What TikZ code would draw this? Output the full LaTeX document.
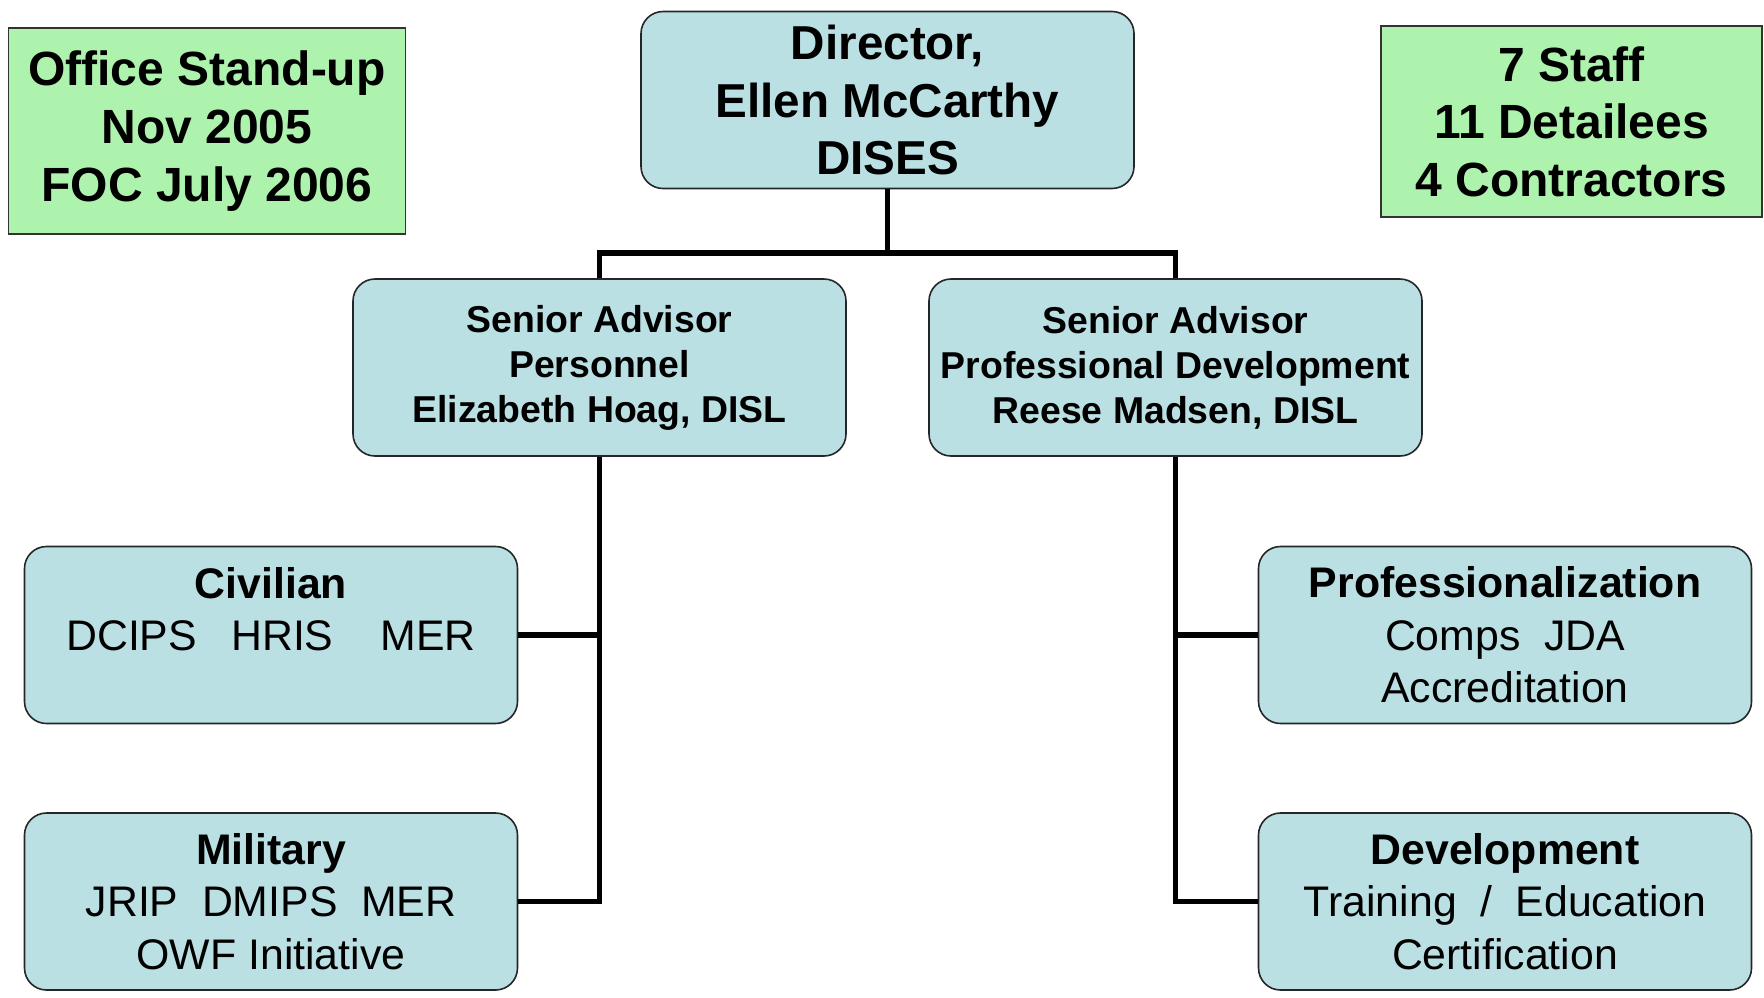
\documentclass[tikz,border=0pt]{standalone}
\usepackage{fontspec}
\setmainfont{Liberation Sans}
\definecolor{boxblue}{RGB}{186,224,227}
\definecolor{boxgreen}{RGB}{173,242,173}
\begin{document}
\begin{tikzpicture}[x=0.5pt,y=-0.5pt]

    \tikzset{
      unit/.style={
        draw=black!85,
        line width=0.8pt,
        fill=boxblue,
        rounded corners=11pt,
        align=center,
        inner sep=0pt,
        minimum width=246.5pt,
        minimum height=88.5pt,
      },
      topunit/.style={
        unit,
        font=\fontsize{23.8}{28.7}\selectfont\bfseries,
      },
      advisor/.style={
        unit,
        font=\fontsize{18.7}{22.5}\selectfont\bfseries,
      },
      branch/.style={
        unit,
        font=\fontsize{21.4}{26.2}\selectfont,
      },
      note/.style={
        draw=black!80,
        line width=0.8pt,
        fill=boxgreen,
        align=center,
        inner sep=0pt,
        font=\fontsize{24}{28.8}\selectfont\bfseries,
      },
      conn/.style={
        line width=2.8pt,
      },
    }
    \useasboundingbox (0,0) rectangle (1764,997);

    \node[note,minimum width=198.5pt,minimum height=103pt] (standup) at (207,131)
      {Office Stand-up\\Nov 2005\\FOC July 2006};
    \node[note,minimum width=190.5pt,minimum height=95.5pt] (staff) at (1571.5,121.5)
      {7 Staff\\11 Detailees\\4 Contractors};

    \node[topunit] (director) at (887.5,100)
      {Director,\\Ellen McCarthy\\DISES};

    \node[advisor] (personnel) at (599.5,367.5)
      {Senior Advisor\\Personnel\\Elizabeth Hoag, DISL};
    \node[advisor] (profdev) at (1175.5,367.5)
      {Senior Advisor\\Professional Development\\Reese Madsen, DISL};

    \node[branch] (civilian) at (271,635)
      {{\bfseries Civilian}\\DCIPS\hspace{0.8em}HRIS\hspace{1.1em}MER\\\mbox{}};
    \node[branch] (military) at (271,901.5)
      {{\bfseries Military}\\JRIP\hspace{0.55em}DMIPS\hspace{0.55em}MER\\OWF Initiative};
    \node[branch] (prof) at (1505,635)
      {{\bfseries Professionalization}\\Comps\hspace{0.55em}JDA\\Accreditation};
    \node[branch] (develop) at (1505,901.5)
      {{\bfseries Development}\\Training\hspace{0.55em}/\hspace{0.55em}Education\\Certification};

    \coordinate (split) at (887.5,253);

    \draw[conn] (director.south) -- (split);
    \draw[conn] (personnel.north) |- (split) -| (profdev.north);
    \draw[conn] (personnel.south) |- (military.east);
    \draw[conn] (civilian.east) -- (civilian.east -| personnel.south);
    \draw[conn] (profdev.south) |- (develop.west);
    \draw[conn] (prof.west) -- (prof.west -| profdev.south);

\end{tikzpicture}
\end{document}
